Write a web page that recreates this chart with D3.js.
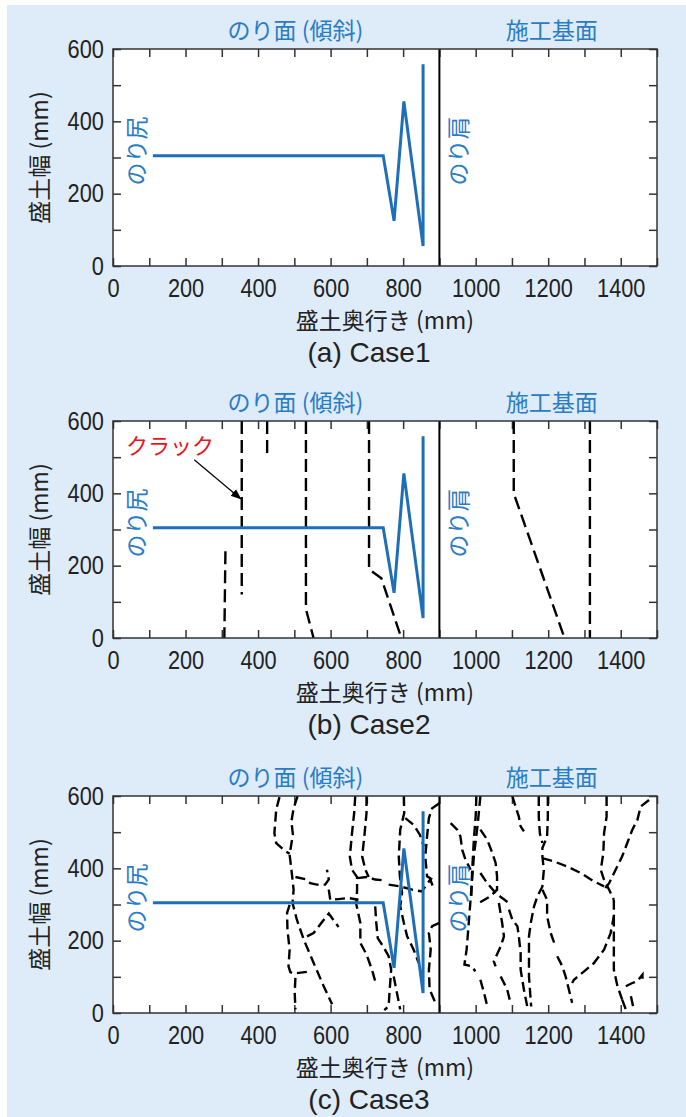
<!DOCTYPE html>
<html>
<head>
<meta charset="utf-8">
<script src="https://cdn.jsdelivr.net/npm/d3@7"></script>
<style>
  body { margin: 0; background: #fff; }
  text { font-family: "Liberation Sans", Arial, sans-serif; }
  .jp { font-family: "Noto Sans CJK JP", "Noto Sans", sans-serif; }
</style>
</head>
<body>
<div id="chart"></div>
<script>
// tick labels
const xTicks = [0, 200, 400, 600, 800, 1000, 1200, 1400];
const yTicks = [0, 200, 400, 600];
const captions = ["(a) Case1", "(b) Case2", "(c) Case3"];

// blue slope profile (same in all cases)
const slopeProfile = [[110, 305], [745, 305], [775, 125], [802, 455], [855, 55], [855, 558]];

// cracks (mm, mm)
const case1Cracks = [];

const case2Cracks = [
  [[355, 600], [355, 120]],
  [[425, 600], [425, 500]],
  [[310, 240], [307, 0]],
  [[532, 600], [532, 80], [553, 0]],
  [[706, 600], [706, 190], [740, 165], [795, 0]],
  [[1105, 600], [1105, 400], [1245, 0]],
  [[1315, 600], [1315, 0]]
];

const case3Cracks = [
  [[459, 597], [450, 562], [445, 497], [450, 470], [472, 450], [487, 440]],
  [[509, 600], [498, 566], [492, 530], [496, 493], [487, 438], [493, 387], [498, 341], [495, 304], [507, 258], [526, 203], [553, 139], [581, 74], [604, 24]],
  [[487, 299], [480, 277], [481, 231], [487, 175], [484, 129], [489, 113], [498, 109], [544, 115]],
  [[503, 97], [501, 56], [503, 10]],
  [[503, 376], [530, 370], [544, 359], [562, 355], [585, 355], [595, 369], [590, 396]],
  [[595, 341], [599, 313], [622, 315], [650, 318], [677, 313]],
  [[535, 212], [553, 221], [576, 251], [595, 275], [610, 254], [622, 238]],
  [[668, 600], [665, 553], [659, 497], [653, 433], [659, 396], [673, 376], [673, 341], [671, 300], [682, 249], [682, 194], [699, 162], [714, 120], [723, 88]],
  [[673, 373], [700, 376], [723, 369], [746, 367]],
  [[699, 600], [699, 553], [693, 488], [687, 433], [696, 396], [705, 376]],
  [[723, 295], [726, 249], [730, 207], [745, 184], [760, 157], [767, 120], [763, 65], [760, 19], [748, 8]],
  [[774, 101], [792, 10]],
  [[802, 600], [803, 553], [792, 507], [788, 433], [791, 378], [797, 332], [792, 295], [802, 249], [811, 212], [829, 175], [843, 138]],
  [[806, 539], [829, 520], [846, 493], [857, 461]],
  [[760, 355], [792, 350], [825, 341], [852, 336], [861, 350], [875, 369], [884, 345]],
  [[900, 580], [880, 566], [871, 539], [866, 488], [861, 433], [866, 378], [880, 369]],
  [[900, 249], [880, 240], [871, 221], [876, 175], [871, 120], [873, 65], [889, 28]],
  [[1013, 600], [1006, 525], [995, 433], [988, 341], [981, 249], [975, 175], [969, 134], [990, 129], [999, 115]],
  [[1002, 600], [1000, 543], [995, 479], [990, 387], [988, 323]],
  [[931, 525], [949, 507], [958, 488], [963, 451], [972, 424], [986, 396]],
  [[1013, 507], [1032, 479], [1046, 442], [1055, 415], [1059, 378], [1059, 341], [1041, 323], [1009, 304]],
  [[1013, 387], [1032, 359], [1055, 332], [1073, 318], [1092, 304]],
  [[1064, 304], [1073, 249], [1078, 212], [1069, 184], [1050, 143], [1055, 129]],
  [[1092, 286], [1101, 258], [1115, 240], [1119, 212], [1124, 166], [1124, 120], [1133, 65], [1142, 19]],
  [[1101, 600], [1110, 571], [1119, 543], [1124, 516], [1133, 502]],
  [[1174, 600], [1174, 543], [1177, 497], [1184, 470]],
  [[1199, 600], [1199, 543], [1197, 488], [1184, 456], [1184, 433], [1188, 396], [1184, 350], [1170, 322], [1161, 295], [1152, 249], [1147, 212], [1147, 157], [1147, 101], [1151, 46], [1153, 18]],
  [[1184, 341], [1197, 313], [1197, 267], [1207, 221], [1220, 184]],
  [[1184, 428], [1216, 419], [1253, 405], [1290, 387], [1326, 364], [1354, 350]],
  [[1361, 600], [1361, 543], [1354, 497], [1352, 442], [1345, 396], [1354, 368], [1368, 341], [1381, 313]],
  [[1478, 589], [1455, 571], [1446, 534], [1432, 507], [1418, 470], [1404, 433], [1386, 396], [1368, 359], [1354, 341]],
  [[1381, 313], [1381, 267], [1372, 221], [1354, 175], [1326, 138], [1299, 115], [1271, 92], [1266, 83]],
  [[1381, 267], [1381, 221], [1381, 175], [1381, 120], [1391, 74], [1404, 37]],
  [[1225, 157], [1239, 129], [1248, 101], [1257, 65], [1266, 28]],
  [[1414, 74], [1432, 83], [1446, 88], [1460, 106], [1460, 83]],
  [[1404, 37], [1414, 10]],
  [[1428, 46], [1436, 10]],
  [[1013, 92], [1023, 56], [1032, 19]],
  [[1069, 101], [1087, 65], [1096, 28]]
];

const allCracks = [case1Cracks, case2Cracks, case3Cracks];
const crackDash = ["13,6", "13,6", "10,5"];

const W = 686, H = 1117;
const left = 113, width = 544, height = 217;
const tops = [49, 421, 796];
const blue = "#1f6fb8", labelBlue = "#2a7cc6";

const svg = d3.select("#chart").append("svg")
  .attr("width", W).attr("height", H);

svg.append("rect").attr("x", 7).attr("y", 5)
  .attr("width", W - 7).attr("height", H - 5)
  .attr("fill", "#deebf8");

const defs = svg.append("defs");
defs.append("marker").attr("id", "arrow")
  .attr("viewBox", "0 0 10 10").attr("refX", 9).attr("refY", 5)
  .attr("markerWidth", 9).attr("markerHeight", 9)
  .attr("orient", "auto")
  .append("path").attr("d", "M0,1 L10,5 L0,9 Z").attr("fill", "#000");

const x = d3.scaleLinear().domain([0, 1500]).range([0, width]);
const y = d3.scaleLinear().domain([0, 600]).range([height, 0]);
const line = d3.line().x(d => x(d[0])).y(d => y(d[1]));

tops.forEach((top, i) => {
  const g = svg.append("g").attr("transform", "translate(" + left + "," + top + ")");

  defs.append("clipPath").attr("id", "clip" + i)
    .append("rect").attr("width", width).attr("height", height);

  g.append("rect").attr("width", width).attr("height", height).attr("fill", "#fff");

  // inward ticks on all four sides
  g.append("g").attr("transform", "translate(0," + height + ")")
    .call(d3.axisBottom(x).tickValues(d3.range(0, 1501, 100))
      .tickSizeInner(-8).tickSizeOuter(0).tickPadding(13)
      .tickFormat(d => xTicks.includes(d) ? d : ""));
  g.append("g")
    .call(d3.axisTop(x).tickValues(d3.range(0, 1501, 100))
      .tickSizeInner(-8).tickSizeOuter(0).tickFormat(""));
  g.append("g")
    .call(d3.axisLeft(y).tickValues(d3.range(0, 601, 100))
      .tickSizeInner(-8).tickSizeOuter(0).tickPadding(10.5)
      .tickFormat(d => yTicks.includes(d) ? d : ""));
  g.append("g").attr("transform", "translate(" + width + ",0)")
    .call(d3.axisRight(y).tickValues(d3.range(0, 601, 100))
      .tickSizeInner(-8).tickSizeOuter(0).tickFormat(""));
  g.selectAll(".domain").remove();
  g.selectAll(".tick line").attr("stroke", "#333").attr("stroke-width", 1.5);
  // narrow, tall digits like the original
  g.selectAll(".tick text").attr("font-size", 25).attr("fill", "#222")
    .attr("font-family", "'Liberation Sans', Arial, sans-serif")
    .attr("transform", "scale(0.87,1)");

  const plot = g.append("g").attr("clip-path", "url(#clip" + i + ")");

  plot.selectAll("path.crack").data(allCracks[i]).enter()
    .append("path").attr("class", "crack")
    .attr("d", line)
    .attr("fill", "none").attr("stroke", "#000")
    .attr("stroke-width", 2.4).attr("stroke-dasharray", crackDash[i]);

  plot.append("path").datum(slopeProfile)
    .attr("d", line).attr("fill", "none")
    .attr("stroke", blue).attr("stroke-width", 3)
    .attr("stroke-linejoin", "miter");

  // slope shoulder divider
  g.append("line").attr("x1", x(900)).attr("x2", x(900))
    .attr("y1", 0).attr("y2", height)
    .attr("stroke", "#000").attr("stroke-width", 2);

  g.append("rect").attr("width", width).attr("height", height)
    .attr("fill", "none").attr("stroke", "#333").attr("stroke-width", 1.5);

  // region labels
  g.append("text").attr("class", "jp").attr("x", x(503)).attr("y", -10)
    .attr("text-anchor", "middle").attr("font-size", 23).attr("fill", labelBlue)
    .text("のり面 (傾斜)");
  g.append("text").attr("class", "jp").attr("x", x(1210)).attr("y", -10)
    .attr("text-anchor", "middle").attr("font-size", 23).attr("fill", labelBlue)
    .text("施工基面");
  g.append("text").attr("class", "jp")
    .attr("transform", "translate(" + (x(65) + 8) + "," + y(318) + ") rotate(-90)")
    .attr("text-anchor", "middle").attr("font-size", 23).attr("fill", labelBlue)
    .text("のり尻");
  g.append("text").attr("class", "jp")
    .attr("transform", "translate(" + (x(953) + 8) + "," + y(318) + ") rotate(-90)")
    .attr("text-anchor", "middle").attr("font-size", 23).attr("fill", labelBlue)
    .text("のり肩");

  // axis titles
  g.append("text").attr("class", "jp")
    .attr("transform", "translate(-65," + (height / 2) + ") rotate(-90)")
    .attr("text-anchor", "middle").attr("font-size", 23).attr("fill", "#222")
    .text("盛土幅 (mm)");
  g.append("text").attr("class", "jp").attr("x", width / 2).attr("y", height + 63)
    .attr("text-anchor", "middle").attr("font-size", 23).attr("fill", "#222")
    .text("盛土奥行き (mm)");
  g.append("text").attr("x", width / 2 - 16).attr("y", height + 96)
    .attr("text-anchor", "middle").attr("font-size", 28).attr("fill", "#222")
    .text(captions[i]);

  if (i === 1) {
    g.append("text").attr("class", "jp").attr("x", x(36)).attr("y", y(531) + 8)
      .attr("font-size", 22).attr("fill", "#e8141e").text("クラック");
    g.append("line")
      .attr("x1", x(224)).attr("y1", y(493))
      .attr("x2", x(352)).attr("y2", y(385))
      .attr("stroke", "#000").attr("stroke-width", 1.2)
      .attr("marker-end", "url(#arrow)");
  }
});
</script>
</body>
</html>
